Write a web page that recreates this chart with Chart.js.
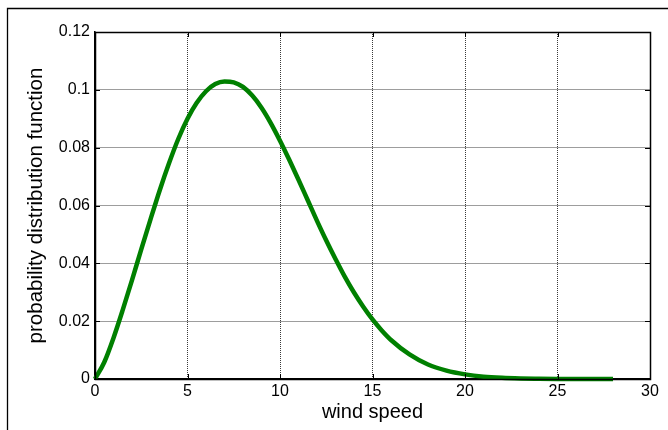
<!DOCTYPE html>
<html>
<head>
<meta charset="utf-8">
<script src="https://cdn.jsdelivr.net/npm/chart.js@4/dist/chart.umd.min.js"></script>
<style>
html,body{margin:0;padding:0;background:#fff;}
#wrap{position:relative;width:668px;height:430px;}
</style>
</head>
<body>
<div id="wrap"><canvas id="c" width="668" height="430"></canvas></div>
<script>
const windSpeed = [0,0.5,1,1.5,2,2.5,3,3.5,4,4.5,5,5.5,6,6.5,7,7.5,8,8.5,9,9.5,10,10.5,11,11.5,12,12.5,13,13.5,14,14.5,15,15.5,16,17,18,19,20,21,22,23,24,25,26,27,28];
const pdfValues = [0,0.0058,0.0142,0.0239,0.0342,0.0448,0.0552,0.0653,0.0746,0.0830,0.0900,0.0955,0.0995,0.1020,0.1029,0.1026,0.1010,0.0980,0.0938,0.0885,0.0824,0.0758,0.0689,0.0618,0.0547,0.0479,0.0415,0.0354,0.0299,0.0250,0.0206,0.0168,0.0135,0.0085,0.0050,0.0029,0.0016,0.0008,0.0004,0.0002,0.0001,0.00003,0.00001,0.000005,0.000002];
const xTickValues = [0,5,10,15,20,25,30];
const yTickLabels = ['0','0.02','0.04','0.06','0.08','0.1','0.12'];
const xTitle = 'wind speed';
const yTitle = 'probability distribution function';

const points = windSpeed.map((x,i)=>({x:x,y:pdfValues[i]}));

const framePlugin = {
  id:'frame',
  beforeDraw(chart){
    const ctx = chart.ctx;
    ctx.save();
    ctx.fillStyle='#fff';
    ctx.fillRect(0,0,chart.width,chart.height);
    ctx.strokeStyle='#000';
    ctx.lineWidth=1.3;
    ctx.beginPath();
    ctx.moveTo(7.5,chart.height);
    ctx.lineTo(7.5,8.5);
    ctx.lineTo(chart.width,8.5);
    ctx.stroke();
    ctx.restore();
  },
  afterDraw(chart){
    const ctx = chart.ctx;
    const a = chart.chartArea;
    const xs = chart.scales.x, ys = chart.scales.y;
    ctx.save();
    ctx.strokeStyle='#000';
    ctx.lineWidth=1;
    ctx.beginPath();
    xs.ticks.forEach(t=>{
      const px = Math.round(xs.getPixelForValue(t.value))+0.5;
      ctx.moveTo(px,a.bottom); ctx.lineTo(px,a.bottom-5);
      ctx.moveTo(px,a.top); ctx.lineTo(px,a.top+5);
    });
    ys.ticks.forEach(t=>{
      const py = Math.round(ys.getPixelForValue(t.value))+0.5;
      ctx.moveTo(a.left,py); ctx.lineTo(a.left+5,py);
      ctx.moveTo(a.right,py); ctx.lineTo(a.right-5,py);
    });
    ctx.stroke();
    ctx.lineWidth=1.5;
    ctx.strokeRect(Math.round(a.left)+0.5,Math.round(a.top)+0.5,Math.round(a.right-a.left),Math.round(a.bottom-a.top));
    ctx.restore();
  }
};

Chart.defaults.font.family = '"Liberation Sans", Arial, Helvetica, sans-serif';
Chart.defaults.color = '#000';

new Chart(document.getElementById('c'),{
  type:'scatter',
  data:{datasets:[{
    data:points,
    showLine:true,
    borderColor:'#008000',
    backgroundColor:'#008000',
    borderWidth:4.5,
    pointRadius:0,
    cubicInterpolationMode:'monotone',
    clip:false
  }]},
  options:{
    responsive:false,
    animation:false,
    events:[],
    layout:{padding:{top:32,right:18,left:0,bottom:0}},
    plugins:{legend:{display:false},tooltip:{enabled:false}},
    scales:{
      x:{
        type:'linear',min:0,max:30,
        afterBuildTicks(s){ s.ticks = xTickValues.map(v=>({value:v})); },
        afterFit(s){ s.height = 51; },
        ticks:{font:{size:16},padding:3,maxRotation:0,callback:(v)=>String(v)},
        grid:{color:'#3a3a3a',lineWidth:1,drawTicks:false},
        border:{display:true,color:'#000',width:1.5,dash:[1,1]},
        title:{display:true,text:xTitle,font:{size:20},padding:{top:0,bottom:6}}
      },
      y:{
        type:'linear',min:0,max:0.12,
        afterBuildTicks(s){ s.ticks = yTickLabels.map((l,i)=>({value:i*0.02})); },
        afterFit(s){ s.width = 95; },
        ticks:{font:{size:16},padding:5,callback:(v,i)=>yTickLabels[i]},
        grid:{color:'#3a3a3a',lineWidth:1,drawTicks:false},
        border:{display:true,color:'#000',width:1.5,dash:[1,1]},
        title:{display:true,text:yTitle,font:{size:20.5},padding:{top:24,bottom:0}}
      }
    }
  },
  plugins:[framePlugin]
});
</script>
</body>
</html>
